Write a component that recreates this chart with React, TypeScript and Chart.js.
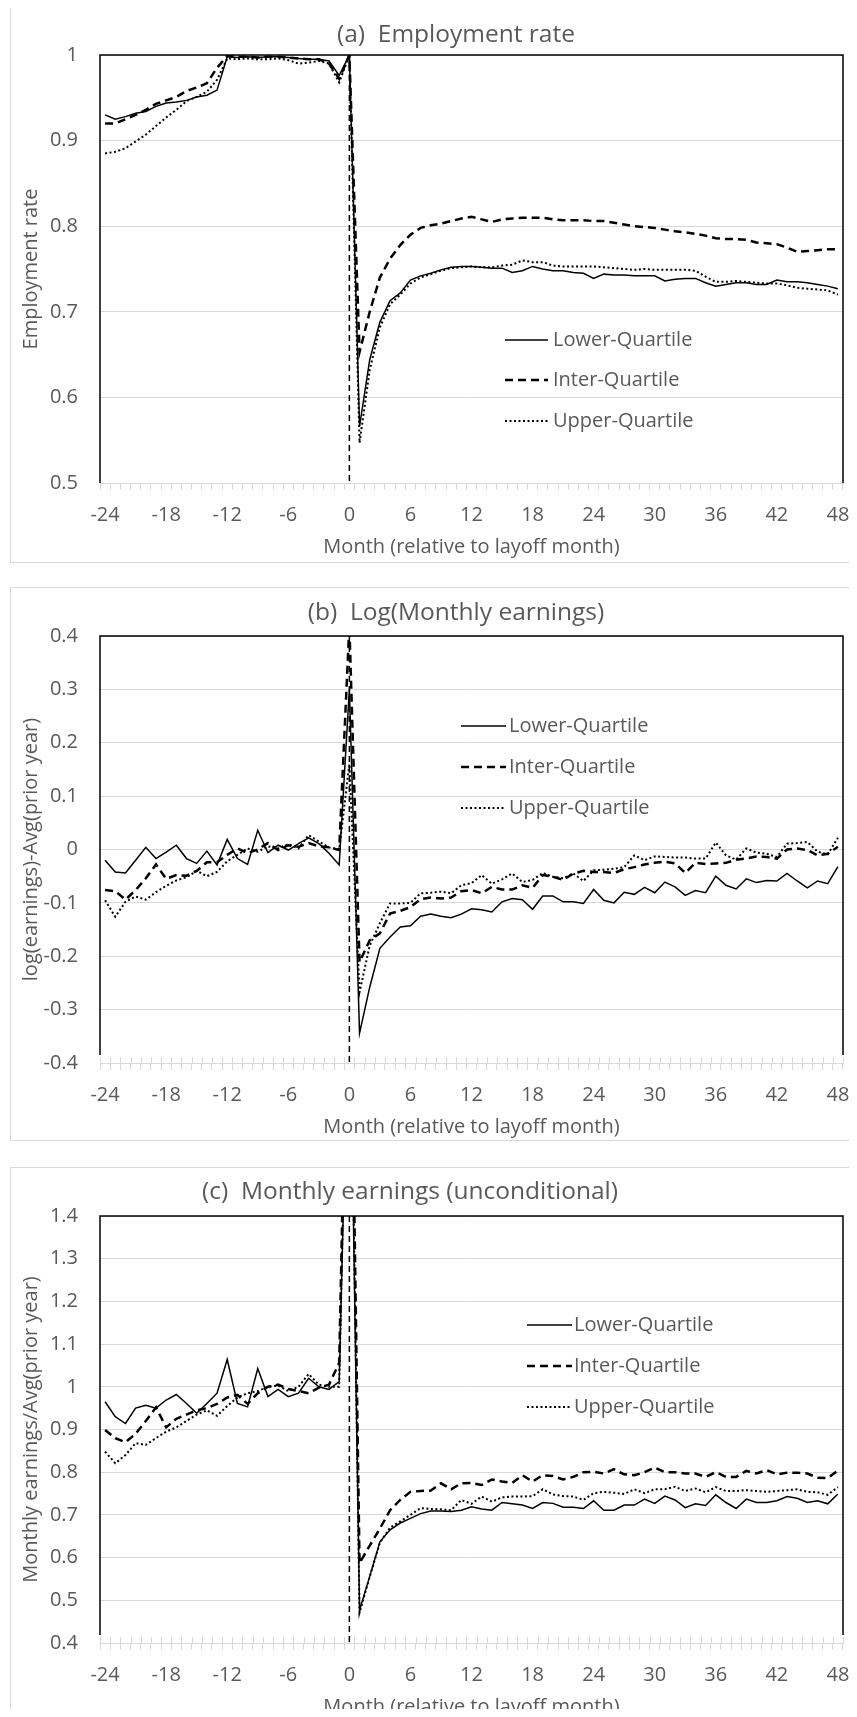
import React, { useEffect, useRef } from 'react';
import { Chart, registerables } from 'chart.js';

Chart.register(...registerables);

// ---------- data ----------
const MONTHS = [
  -24, -23, -22, -21, -20, -19, -18, -17, -16, -15, -14, -13, -12, -11, -10, -9, -8, -7, -6, -5, -4, -3, -2, -1,
  0, 1, 2, 3, 4, 5, 6, 7, 8, 9, 10, 11, 12, 13, 14, 15, 16, 17, 18, 19, 20, 21, 22, 23, 24,
  25, 26, 27, 28, 29, 30, 31, 32, 33, 34, 35, 36, 37, 38, 39, 40, 41, 42, 43, 44, 45, 46, 47, 48,
];
const X_TICK_LABELS = ['-24', '-18', '-12', '-6', '0', '6', '12', '18', '24', '30', '36', '42', '48'];
const SERIES_NAMES = ['Lower-Quartile', 'Inter-Quartile', 'Upper-Quartile'];

// (a) Employment rate
const EMP_LOWER = [
  0.930, 0.925, 0.928, 0.932, 0.934, 0.940, 0.944, 0.945, 0.947, 0.951, 0.953, 0.959, 0.998, 0.997, 0.998, 0.997,
  0.998, 0.998, 0.997, 0.996, 0.995, 0.995, 0.993, 0.976, 1.000,
  0.566, 0.644, 0.688, 0.713, 0.722, 0.737, 0.742, 0.745, 0.749, 0.752, 0.753, 0.753, 0.752, 0.751, 0.751, 0.746,
  0.748, 0.753, 0.750, 0.748, 0.748, 0.746, 0.745, 0.739, 0.744, 0.743, 0.743, 0.742, 0.742, 0.742, 0.736, 0.738,
  0.739, 0.739, 0.734, 0.730, 0.732, 0.734, 0.734, 0.732, 0.732, 0.737, 0.735, 0.735, 0.734, 0.732, 0.730, 0.727,
];
const EMP_INTER = [
  0.920, 0.920, 0.925, 0.930, 0.936, 0.943, 0.947, 0.951, 0.958, 0.962, 0.967, 0.985, 0.999, 0.998, 0.998, 0.997,
  0.998, 0.998, 0.997, 0.996, 0.995, 0.995, 0.990, 0.972, 1.000,
  0.653, 0.700, 0.740, 0.762, 0.778, 0.790, 0.798, 0.801, 0.803, 0.806, 0.809, 0.811, 0.808, 0.805, 0.808, 0.809,
  0.810, 0.810, 0.810, 0.808, 0.807, 0.807, 0.807, 0.806, 0.806, 0.804, 0.802, 0.800, 0.799, 0.798, 0.796, 0.794,
  0.793, 0.791, 0.789, 0.786, 0.785, 0.785, 0.784, 0.781, 0.780, 0.779, 0.775, 0.770, 0.771, 0.772, 0.773, 0.773,
];
const EMP_UPPER = [
  0.885, 0.887, 0.891, 0.899, 0.907, 0.917, 0.927, 0.936, 0.946, 0.951, 0.957, 0.971, 0.996, 0.995, 0.996, 0.995,
  0.995, 0.996, 0.994, 0.990, 0.991, 0.993, 0.990, 0.968, 1.000,
  0.547, 0.632, 0.682, 0.709, 0.720, 0.733, 0.740, 0.744, 0.748, 0.751, 0.752, 0.753, 0.752, 0.752, 0.754, 0.755,
  0.760, 0.758, 0.758, 0.754, 0.753, 0.753, 0.753, 0.753, 0.752, 0.751, 0.750, 0.749, 0.750, 0.749, 0.749, 0.749,
  0.749, 0.748, 0.741, 0.735, 0.735, 0.736, 0.735, 0.734, 0.733, 0.733, 0.731, 0.728, 0.727, 0.726, 0.725, 0.720,
];

// (b) Log(Monthly earnings)
const LOG_LOWER = [
  -0.020, -0.042, -0.044, -0.020, 0.004, -0.017, -0.005, 0.008, -0.017, -0.026, -0.003, -0.029, 0.019, -0.017,
  -0.028, 0.036, -0.006, 0.008, -0.001, 0.011, 0.022, 0.011, -0.007, -0.029, 0.300,
  -0.344, -0.258, -0.185, -0.164, -0.145, -0.143, -0.125, -0.121, -0.125, -0.128, -0.121, -0.111, -0.113, -0.117,
  -0.098, -0.092, -0.094, -0.112, -0.087, -0.087, -0.098, -0.098, -0.101, -0.075, -0.095, -0.100, -0.080, -0.084,
  -0.071, -0.081, -0.061, -0.070, -0.086, -0.077, -0.081, -0.050, -0.067, -0.074, -0.055, -0.062, -0.058, -0.059,
  -0.045, -0.059, -0.072, -0.059, -0.064, -0.032,
];
const LOG_INTER = [
  -0.076, -0.078, -0.094, -0.076, -0.054, -0.028, -0.055, -0.048, -0.049, -0.040, -0.024, -0.024, -0.010, 0.002,
  -0.007, 0.000, 0.012, -0.001, 0.008, 0.005, 0.012, 0.006, 0.004, -0.001, 0.420,
  -0.211, -0.170, -0.157, -0.120, -0.115, -0.108, -0.093, -0.090, -0.092, -0.090, -0.078, -0.076, -0.082, -0.070,
  -0.075, -0.075, -0.067, -0.072, -0.048, -0.051, -0.057, -0.045, -0.040, -0.042, -0.042, -0.044, -0.037, -0.033,
  -0.028, -0.025, -0.023, -0.026, -0.044, -0.025, -0.027, -0.026, -0.025, -0.019, -0.017, -0.013, -0.014, -0.017,
  0.000, 0.002, -0.001, -0.011, -0.008, 0.005,
];
const LOG_UPPER = [
  -0.095, -0.126, -0.098, -0.088, -0.094, -0.080, -0.068, -0.058, -0.052, -0.040, -0.050, -0.042, -0.022, -0.010,
  0.002, -0.004, 0.006, 0.002, 0.010, 0.002, 0.027, 0.015, 0.004, 0.000, 0.160,
  -0.267, -0.180, -0.138, -0.101, -0.101, -0.100, -0.082, -0.081, -0.079, -0.082, -0.067, -0.063, -0.048, -0.064,
  -0.056, -0.045, -0.061, -0.057, -0.044, -0.051, -0.054, -0.045, -0.059, -0.039, -0.038, -0.036, -0.033, -0.011,
  -0.020, -0.013, -0.014, -0.015, -0.015, -0.017, -0.017, 0.013, -0.011, -0.019, 0.002, -0.006, -0.008, -0.014,
  0.011, 0.012, 0.014, -0.004, -0.009, 0.022,
];

// (c) Monthly earnings (unconditional)
const EARN_LOWER = [
  0.965, 0.930, 0.914, 0.950, 0.957, 0.950, 0.969, 0.982, 0.961, 0.938, 0.961, 0.985, 1.064, 0.961, 0.953, 1.043,
  0.977, 0.994, 0.977, 0.985, 1.020, 1.000, 0.994, 1.012, 2.000,
  0.477, 0.556, 0.637, 0.665, 0.681, 0.692, 0.703, 0.709, 0.709, 0.708, 0.711, 0.719, 0.714, 0.711, 0.729, 0.726,
  0.723, 0.715, 0.729, 0.727, 0.718, 0.718, 0.715, 0.733, 0.711, 0.711, 0.723, 0.723, 0.737, 0.727, 0.744, 0.735,
  0.717, 0.726, 0.722, 0.747, 0.729, 0.715, 0.737, 0.729, 0.729, 0.733, 0.743, 0.739, 0.729, 0.733, 0.726, 0.749,
];
const EARN_INTER = [
  0.899, 0.880, 0.870, 0.890, 0.920, 0.952, 0.905, 0.925, 0.935, 0.945, 0.950, 0.960, 0.975, 0.981, 0.960, 0.985,
  1.000, 1.005, 0.995, 0.990, 0.985, 0.998, 1.005, 1.056, 2.200,
  0.587, 0.628, 0.668, 0.711, 0.735, 0.754, 0.756, 0.757, 0.774, 0.760, 0.774, 0.775, 0.770, 0.783, 0.778, 0.775,
  0.793, 0.778, 0.793, 0.791, 0.783, 0.789, 0.800, 0.801, 0.797, 0.807, 0.795, 0.793, 0.800, 0.811, 0.800, 0.800,
  0.797, 0.797, 0.789, 0.800, 0.789, 0.789, 0.803, 0.797, 0.805, 0.795, 0.799, 0.799, 0.797, 0.787, 0.786, 0.804,
];
const EARN_UPPER = [
  0.848, 0.821, 0.840, 0.868, 0.864, 0.880, 0.895, 0.905, 0.920, 0.935, 0.945, 0.932, 0.955, 0.975, 0.985, 0.990,
  1.000, 1.003, 0.990, 1.000, 1.030, 1.005, 1.000, 1.000, 2.100,
  0.471, 0.555, 0.635, 0.670, 0.685, 0.700, 0.716, 0.714, 0.713, 0.711, 0.735, 0.726, 0.743, 0.731, 0.741, 0.743,
  0.743, 0.744, 0.760, 0.748, 0.744, 0.743, 0.735, 0.751, 0.754, 0.752, 0.749, 0.760, 0.751, 0.760, 0.760, 0.766,
  0.756, 0.762, 0.753, 0.765, 0.756, 0.756, 0.758, 0.756, 0.754, 0.756, 0.758, 0.760, 0.754, 0.753, 0.747, 0.765,
];

// ---------- styling ----------
const FONT = "'Open Sans', 'Noto Sans', sans-serif";
const TEXT_COLOR = '#595959';
const GRID_COLOR = '#d9d9d9';

type PanelSpec = {
  key: string;
  title: string;
  yTitle: string;
  series: number[][];
  yMin: number;
  yMax: number;
  box: { left: number; top: number; width: number; height: number };
  areaTop: number;
  areaBottom: number;
  titlePos: { x: number; y: number };
  legendPos: { x0: number; x1: number; textX: number; ys: number[] };
  frameGap: number;
  crossTicks: boolean;
};

const PANELS: PanelSpec[] = [
  {
    key: 'a',
    title: '(a)  Employment rate',
    yTitle: 'Employment rate',
    series: [EMP_LOWER, EMP_INTER, EMP_UPPER],
    yMin: 0.5,
    yMax: 1,
    box: { left: 10, top: 7, width: 892, height: 556 },
    areaTop: 47,
    areaBottom: 475,
    titlePos: { x: 445, y: 27 },
    legendPos: { x0: 494, x1: 537, textX: 542, ys: [332, 372, 413] },
    frameGap: 0,
    crossTicks: false,
  },
  {
    key: 'b',
    title: '(b)  Log(Monthly earnings)',
    yTitle: 'log(earnings)-Avg(prior year)',
    series: [LOG_LOWER, LOG_INTER, LOG_UPPER],
    yMin: -0.4,
    yMax: 0.4,
    box: { left: 10, top: 587, width: 892, height: 554 },
    areaTop: 48,
    areaBottom: 475,
    titlePos: { x: 445, y: 25 },
    legendPos: { x0: 450, x1: 495, textX: 498, ys: [138, 179, 220] },
    frameGap: 8,
    crossTicks: true,
  },
  {
    key: 'c',
    title: '(c)  Monthly earnings (unconditional)',
    yTitle: 'Monthly earnings/Avg(prior year)',
    series: [EARN_LOWER, EARN_INTER, EARN_UPPER],
    yMin: 0.4,
    yMax: 1.4,
    box: { left: 10, top: 1167, width: 892, height: 553 },
    areaTop: 48,
    areaBottom: 475,
    titlePos: { x: 399, y: 24 },
    legendPos: { x0: 516, x1: 561, textX: 563, ys: [157, 198, 239] },
    frameGap: 8,
    crossTicks: true,
  },
];

const LINE_STYLES = [
  { borderWidth: 1.5, borderDash: [] as number[] },
  { borderWidth: 2.5, borderDash: [8, 5] },
  { borderWidth: 2, borderDash: [2, 2.5] },
];

const fmtY = (v: number) => {
  const r = Math.round(v * 10) / 10;
  return Object.is(r, -0) ? '0' : String(r);
};

function Panel({ spec }: { spec: PanelSpec }) {
  const ref = useRef<HTMLCanvasElement | null>(null);
  const cw = spec.box.width - 2;
  const ch = spec.box.height - 2;

  useEffect(() => {
    const canvas = ref.current;
    if (!canvas) return;
    const Y_AXIS_W = 81;
    const X_AXIS_H = 76;
    const padLeft = 8;
    const areaRight = 832;

    const decor = {
      id: 'excelDecor',
      afterDraw(chart: any) {
        const ctx = chart.ctx;
        const area = chart.chartArea;
        const xs = chart.scales.x;
        ctx.save();

        // upward halves of the crossing tick marks
        if (spec.crossTicks) {
          const step = xs.getPixelForValue(1) - xs.getPixelForValue(0);
          ctx.strokeStyle = GRID_COLOR;
          ctx.lineWidth = 1;
          ctx.setLineDash([]);
          ctx.beginPath();
          for (let i = 0; i <= MONTHS.length; i++) {
            const x = Math.round(xs.getPixelForValue(i) - step / 2) + 0.5;
            ctx.moveTo(x, area.bottom);
            ctx.lineTo(x, area.bottom - 6);
          }
          ctx.stroke();
        }

        // vertical dashed line at layoff month
        const x0 = xs.getPixelForValue(MONTHS.indexOf(0));
        ctx.strokeStyle = '#000';
        ctx.lineWidth = 1.5;
        ctx.setLineDash([6, 4]);
        ctx.beginPath();
        ctx.moveTo(x0, area.top);
        ctx.lineTo(x0, area.bottom);
        ctx.stroke();

        // plot frame (top, left, right)
        ctx.setLineDash([]);
        ctx.lineWidth = 1.5;
        ctx.strokeStyle = '#000';
        ctx.beginPath();
        ctx.moveTo(area.left, area.bottom - spec.frameGap);
        ctx.lineTo(area.left, area.top);
        ctx.lineTo(area.right, area.top);
        ctx.lineTo(area.right, area.bottom - spec.frameGap);
        ctx.stroke();

        // chart title
        ctx.fillStyle = TEXT_COLOR;
        ctx.font = `24.5px ${FONT}`;
        ctx.textAlign = 'center';
        ctx.textBaseline = 'middle';
        ctx.fillText(spec.title, spec.titlePos.x, spec.titlePos.y);

        // legend
        ctx.font = `20px ${FONT}`;
        ctx.textAlign = 'left';
        chart.data.datasets.forEach((ds: any, i: number) => {
          const y = spec.legendPos.ys[i];
          ctx.strokeStyle = ds.borderColor;
          ctx.lineWidth = ds.borderWidth;
          ctx.setLineDash(ds.borderDash || []);
          ctx.beginPath();
          ctx.moveTo(spec.legendPos.x0, y);
          ctx.lineTo(spec.legendPos.x1, y);
          ctx.stroke();
          ctx.setLineDash([]);
          ctx.fillStyle = TEXT_COLOR;
          ctx.fillText(ds.label, spec.legendPos.textX, y);
        });
        ctx.restore();
      },
    };

    const chart = new Chart(canvas, {
      type: 'line',
      data: {
        labels: MONTHS.map(String),
        datasets: spec.series.map((data, i) => ({
          label: SERIES_NAMES[i],
          data,
          borderColor: '#000',
          backgroundColor: '#000',
          borderWidth: LINE_STYLES[i].borderWidth,
          borderDash: LINE_STYLES[i].borderDash,
          pointRadius: 0,
          tension: 0,
          fill: false,
        })),
      },
      options: {
        responsive: false,
        animation: false,
        events: [],
        layout: {
          padding: {
            left: padLeft,
            top: spec.areaTop,
            right: cw - areaRight,
            bottom: Math.max(0, ch - (spec.areaBottom + X_AXIS_H)),
          },
        },
        scales: {
          x: {
            type: 'category',
            offset: true,
            grid: {
              display: true,
              offset: true,
              drawOnChartArea: false,
              drawTicks: true,
              tickLength: 7,
              tickColor: GRID_COLOR,
              lineWidth: 1,
            },
            border: { display: true, color: GRID_COLOR, width: 1 },
            ticks: {
              autoSkip: false,
              maxRotation: 0,
              minRotation: 0,
              padding: 13,
              color: TEXT_COLOR,
              font: { family: FONT, size: 20 },
              callback: function (this: any, value: any) {
                const lab = this.getLabelForValue(value);
                return X_TICK_LABELS.includes(lab) ? lab : '';
              },
            },
            title: {
              display: true,
              text: 'Month (relative to layoff month)',
              color: TEXT_COLOR,
              font: { family: FONT, size: 20 },
              padding: { top: 0, bottom: 0 },
            },
            afterFit: (s: any) => {
              s.height = X_AXIS_H;
            },
          },
          y: {
            min: spec.yMin,
            max: spec.yMax,
            ticks: {
              stepSize: 0.1,
              padding: 22,
              color: TEXT_COLOR,
              font: { family: FONT, size: 20 },
              callback: (v: any) => fmtY(Number(v)),
            },
            grid: { color: GRID_COLOR, drawTicks: false, lineWidth: 1 },
            border: { display: false },
            title: {
              display: true,
              text: spec.yTitle,
              color: TEXT_COLOR,
              font: { family: FONT, size: 20 },
              padding: { top: 0, bottom: 0 },
            },
            afterFit: (s: any) => {
              s.width = Y_AXIS_W;
            },
          },
        },
        plugins: {
          legend: { display: false },
          title: { display: false },
          tooltip: { enabled: false },
        },
      } as any,
      plugins: [decor],
    });
    return () => chart.destroy();
  }, [spec]);

  return (
    <div
      style={{
        position: 'absolute',
        left: spec.box.left,
        top: spec.box.top,
        width: spec.box.width,
        height: spec.box.height,
        border: `1px solid ${GRID_COLOR}`,
        boxSizing: 'border-box',
        background: '#fff',
      }}
    >
      <canvas ref={ref} width={cw} height={ch} style={{ display: 'block', width: cw, height: ch }} />
    </div>
  );
}

export default function App() {
  return (
    <div
      style={{
        position: 'relative',
        width: 857,
        height: 1717,
        margin: -8,
        overflow: 'hidden',
        background: '#fff',
      }}
    >
      {PANELS.map((p) => (
        <Panel key={p.key} spec={p} />
      ))}
    </div>
  );
}
